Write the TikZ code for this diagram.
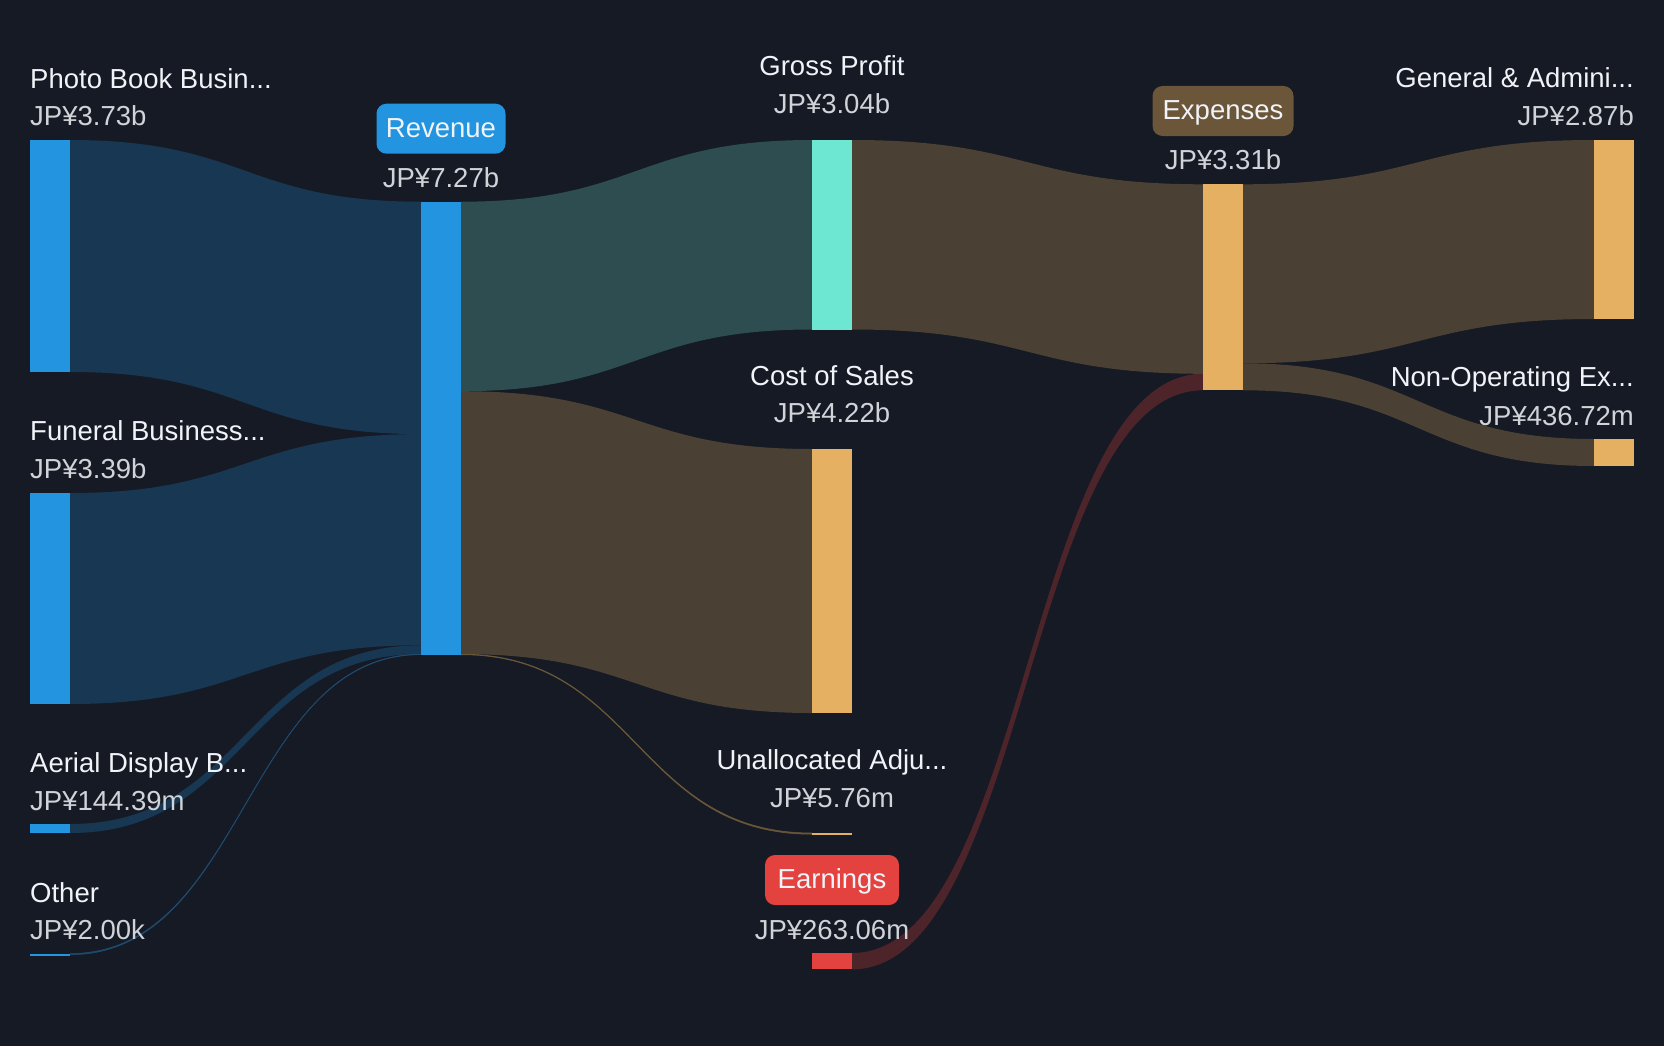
\documentclass[tikz,border=0pt]{standalone}
\usepackage{fontspec}
\setmainfont{Liberation Sans}
\usetikzlibrary{calc}
\definecolor{bg}{HTML}{151A24}
\definecolor{cblue}{HTML}{2394DF}
\definecolor{lblue}{HTML}{183753}
\definecolor{lblueth}{HTML}{1E4A6E}
\definecolor{cteal}{HTML}{6EE7D2}
\definecolor{lteal}{HTML}{2D4D50}
\definecolor{corange}{HTML}{E5B062}
\definecolor{lbrown}{HTML}{4A4034}
\definecolor{lbrownth}{HTML}{6A5638}
\definecolor{cexpbox}{HTML}{6B5639}
\definecolor{cred}{HTML}{E4423F}
\definecolor{lred}{HTML}{4C2429}
\definecolor{ctext}{HTML}{F0F3F7}
\definecolor{cval}{HTML}{D0D3D8}
\newcommand\flow[7]{%
  \fill[#7] let \p1=([yshift=-#2pt]#1.north east),
                \p2=([yshift=-#3pt]#1.north east),
                \p3=([yshift=-#5pt]#4.north west),
                \p4=([yshift=-#6pt]#4.north west),
                \p5=($(\p1)!0.5!(\p3)$) in
    (\p1) .. controls (\x5,\y1) and (\x5,\y3) .. (\p3) --
    (\p4) .. controls (\x5,\y4) and (\x5,\y2) .. (\p2) -- cycle;}
\tikzset{
  bar/.style={rectangle, inner sep=0pt, outer sep=0pt, minimum width=40pt, draw=none, anchor=north west},
  lab/.style={inner sep=0pt, text=ctext, font=\fontsize{27.5}{33}\selectfont},
  val/.style={inner sep=0pt, text=cval, font=\fontsize{27.5}{33}\selectfont},
  tagbox/.style={rectangle, rounded corners=10pt, inner sep=0pt, minimum height=50pt, text=ctext,
     text height=17.5pt, text depth=0pt, font=\fontsize{27.5}{33}\selectfont},
}
\begin{document}
\begin{tikzpicture}[x=1pt,y=-1pt]
\fill[bg] (0,0) rectangle (1664,1046);
\useasboundingbox (0,0) rectangle (1664,1046);
% bars
\node[bar, fill=cblue, minimum height=232pt] (photo) at (30,140) {};
\node[bar, fill=cblue, minimum height=211pt] (funeral) at (30,493) {};
\node[bar, fill=cblue, minimum height=9pt] (aerial) at (30,824) {};
\node[bar, fill=cblue, minimum height=2pt] (other) at (30,953.5) {};
\node[bar, fill=cblue, minimum height=453pt] (rev) at (421,201.7) {};
\node[bar, fill=cteal, minimum height=189.5pt] (gp) at (812,140) {};
\node[bar, fill=corange, minimum height=264pt] (cost) at (812,449) {};
\node[bar, fill=corange, minimum height=1.6pt] (unal) at (812,833) {};
\node[bar, fill=cred, minimum height=16.4pt] (earn) at (812,953) {};
\node[bar, fill=corange, minimum height=206pt] (exp) at (1203,184.3) {};
\node[bar, fill=corange, minimum height=179pt] (ga) at (1594,140) {};
\node[bar, fill=corange, minimum height=27pt] (nonop) at (1594,439) {};
% flows
\begin{scope}[on background layer/.style={}]
\flow{photo}{0}{232}{rev}{0}{232.4}{lblue}
\flow{funeral}{0}{211}{rev}{232.4}{443.6}{lblue}
\flow{aerial}{0}{9}{rev}{443.6}{452.4}{lblue}
\flow{other}{0}{1.2}{rev}{452.4}{453}{lblueth, draw=lblueth, line width=0.5pt}
\flow{rev}{0}{189.5}{gp}{0}{189.5}{lteal}
\flow{rev}{189.5}{452.4}{cost}{0}{264}{lbrown}
\flow{rev}{452.4}{453}{unal}{0}{1.2}{lbrownth, draw=lbrownth, line width=0.6pt}
\flow{gp}{0}{189.5}{exp}{0}{189.5}{lbrown}
\flow{earn}{0}{16.4}{exp}{189.5}{206}{lred}
\flow{exp}{0}{179}{ga}{0}{179}{lbrown}
\flow{exp}{179}{206}{nonop}{0}{27}{lbrown}
\end{scope}
% redraw bars on top
\fill[cblue] (photo.north west) rectangle (photo.south east);
\fill[cblue] (funeral.north west) rectangle (funeral.south east);
\fill[cblue] (aerial.north west) rectangle (aerial.south east);
\fill[cblue] (other.north west) rectangle (other.south east);
\fill[cblue] (rev.north west) rectangle (rev.south east);
\fill[cteal] (gp.north west) rectangle (gp.south east);
\fill[corange] (cost.north west) rectangle (cost.south east);
\fill[corange] (unal.north west) rectangle (unal.south east);
\fill[cred] (earn.north west) rectangle (earn.south east);
\fill[corange] (exp.north west) rectangle (exp.south east);
\fill[corange] (ga.north west) rectangle (ga.south east);
\fill[corange] (nonop.north west) rectangle (nonop.south east);
% left labels
\node[lab, anchor=base west] (tphoto) at (30,88.3) {Photo Book Busin...};
\node[val, anchor=base west] (vphoto) at (30,126) {JP¥3.73b};
\node[lab, anchor=base west] (tfun) at (30,440.7) {Funeral Business...};
\node[val, anchor=base west] (vfun) at (30,478.3) {JP¥3.39b};
\node[lab, anchor=base west] (taer) at (30,772.3) {Aerial Display B...};
\node[val, anchor=base west] (vaer) at (30,810.3) {JP¥144.39m};
\node[lab, anchor=base west] (toth) at (30,902) {Other};
\node[val, anchor=base west] (voth) at (30,939.7) {JP¥2.00k};
% revenue
\node[tagbox, fill=cblue, minimum width=129pt] (revbox) at (441,128.7) {Revenue};
\node[val, anchor=base] (vrev) at (441,187.3) {JP¥7.27b};
% middle column
\node[lab, anchor=base] (tgp) at (832,75.7) {Gross Profit};
\node[val, anchor=base] (vgp) at (832,113.3) {JP¥3.04b};
\node[lab, anchor=base] (tcost) at (832,385) {Cost of Sales};
\node[val, anchor=base] (vcost) at (832,422.7) {JP¥4.22b};
\node[lab, anchor=base] (tunal) at (832,769) {Unallocated Adju...};
\node[val, anchor=base] (vunal) at (832,807) {JP¥5.76m};
\node[tagbox, fill=cred, minimum width=134pt] (earnbox) at (832,880) {Earnings};
\node[val, anchor=base] (vearn) at (832,939.7) {JP¥263.06m};
% expenses
\node[tagbox, fill=cexpbox, minimum width=141pt] (expbox) at (1223,111) {Expenses};
\node[val, anchor=base] (vexp) at (1223,169.3) {JP¥3.31b};
% right labels
\node[lab, anchor=base east] (tga) at (1634,87.3) {General \& Admini...};
\node[val, anchor=base east] (vga) at (1634,125.7) {JP¥2.87b};
\node[lab, anchor=base east] (tnon) at (1634,386.7) {Non-Operating Ex...};
\node[val, anchor=base east] (vnon) at (1634,425) {JP¥436.72m};
\end{tikzpicture}
\end{document}
